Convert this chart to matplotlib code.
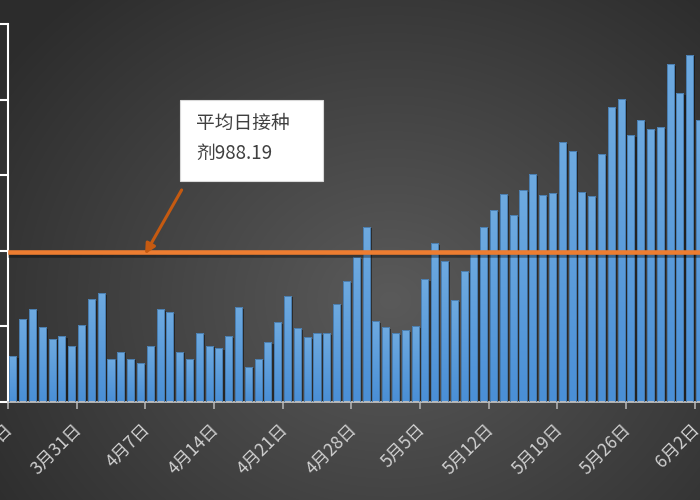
import numpy as np
import matplotlib
matplotlib.use("Agg")
import matplotlib.pyplot as plt
import matplotlib.patheffects as pe
from matplotlib.patches import Rectangle
from matplotlib.transforms import ScaledTranslation

plt.rcParams['font.family'] = ['Noto Sans CJK SC', 'DejaVu Sans']

# daily doses, 3月24日 .. 6月3日 (last bar cut off by the frame)
daily = [301, 548, 610, 493, 416, 432, 370, 509, 679, 716,
         284, 330, 284, 253, 370, 610, 593, 330, 284, 454,
         370, 354, 432, 624, 231, 284, 392, 524, 701, 485,
         425, 454, 454, 648, 796, 957, 1158, 533, 493, 454,
         471, 500, 809, 1048, 933, 670, 862, 995, 1158, 1266,
         1374, 1235, 1399, 1507, 1368, 1383, 1717, 1661, 1390, 1361,
         1639, 1948, 2001, 1763, 1862, 1803, 1818, 2235, 2043, 2297,
         1864]
tick_labels = ['3月24日', '3月31日', '4月7日', '4月14日', '4月21日', '4月28日',
               '5月5日', '5月12日', '5月19日', '5月26日', '6月2日']
y_ticks = [0, 500, 1000, 1500, 2000, 2500]
mean_value = 988.19

fig = plt.figure(figsize=(7, 5), dpi=100)

# radial grey background
bg = fig.add_axes([0, 0, 1, 1], zorder=-10)
yy, xx = np.mgrid[0:500, 0:700]
r = np.sqrt(((xx - 390) / 480.0) ** 2 + ((yy - 300) / 410.0) ** 2)
r = np.clip(r, 0, 1)
light = np.array([0x5a, 0x5a, 0x5a]) / 255
dark = np.array([0x2c, 0x2c, 0x2c]) / 255
img = light[None, None, :] * (1 - r[..., None]) + dark[None, None, :] * r[..., None]
bg.imshow(img, aspect='auto', extent=(0, 1, 0, 1), origin='upper')
bg.axis('off')

# main axes, the right side runs past the frame
ax = fig.add_axes([8 / 700, 0.197, 706.3 / 700, 0.755])
ax.set_facecolor('none')

x = np.arange(len(daily))
bars = ax.bar(x, daily, width=0.72, color='#5b9bd5', edgecolor='none', zorder=2,
              path_effects=[pe.SimplePatchShadow(offset=(1.5, -1.2), shadow_rgbFace='black', alpha=0.45),
                            pe.Normal()])

# vertical gradient inside every bar
grad = np.linspace(0, 1, 64)[:, None]
cmap = matplotlib.colors.LinearSegmentedColormap.from_list('b', ['#4a8fd6', '#6eaae0'])
for b in bars:
    x0, w, h = b.get_x(), b.get_width(), b.get_height()
    im = ax.imshow(grad, cmap=cmap, aspect='auto', origin='lower',
                   extent=(x0, x0 + w, 0, h), zorder=3)
    im.set_clip_path(b)
ax.bar(x, daily, width=0.72, facecolor='none', edgecolor='#4577a8', lw=0.6, zorder=4)

# average line
ax.axhline(mean_value, xmin=0.003, color='#ed7d31', lw=3.3, zorder=6,
           path_effects=[pe.SimpleLineShadow(offset=(0, -2), alpha=0.35), pe.Normal()])

# callout box with arrow
ax.add_patch(Rectangle((17.03, 1460), 14.57, 537, facecolor='white',
                       edgecolor='#d9d9d9', lw=0.8, zorder=7))
ax.text(18.7, 1912, '平均日接种\n剂%.2f' % mean_value, fontsize=13.5, color='#404040',
        va='top', ha='left', linespacing=1.55, zorder=8)
ax.annotate('', xy=(13.47, 975), xytext=(17.2, 1401),
            arrowprops=dict(arrowstyle='-|>', color='#c55a11', lw=2.2,
                            mutation_scale=15, shrinkA=0, shrinkB=0), zorder=8)

ax.set_xlim(-0.5, 71.5)
ax.set_ylim(0, 2500)

for s in ['top', 'right']:
    ax.spines[s].set_visible(False)
ax.spines['left'].set_color('white')
ax.spines['left'].set_linewidth(1.5)
ax.spines['bottom'].set_color('#bfbfbf')
ax.spines['bottom'].set_linewidth(1.3)

ax.set_yticks(y_ticks)
ax.tick_params(axis='y', colors='white', length=5.8, width=1.5, labelleft=False)

ax.set_xticks([i - 0.5 for i in range(0, len(daily), 7)])
ax.set_xticklabels(tick_labels)
ax.tick_params(axis='x', colors='#a6a6a6', length=4.7, width=1.3, pad=13.3,
               labelcolor='#d0d0d0', labelsize=12.5)
shift = ScaledTranslation(2.5 / 100, 0, fig.dpi_scale_trans)
for lab in ax.get_xticklabels():
    lab.set_rotation(45)
    lab.set_ha('right')
    lab.set_va('center')
    lab.set_rotation_mode('anchor')
    lab.set_transform(lab.get_transform() + shift)

fig.savefig('out.png', dpi=100)
